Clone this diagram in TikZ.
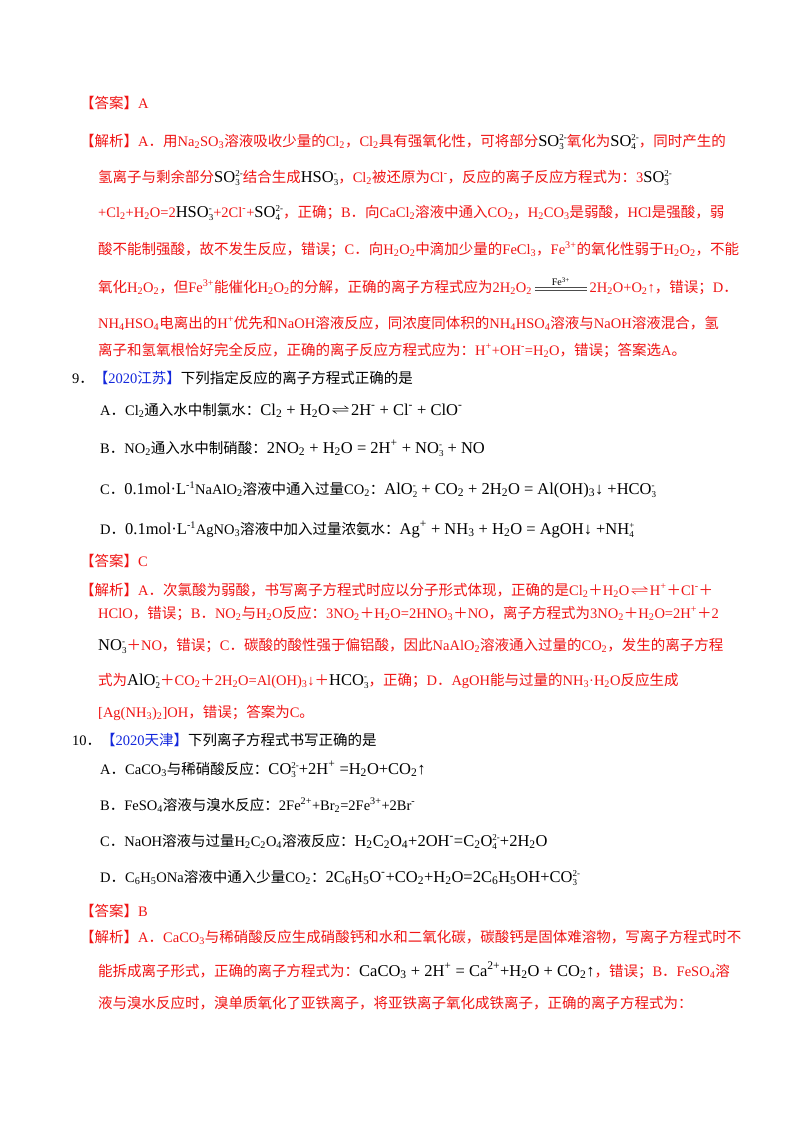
\documentclass[tikz,border=0pt]{standalone}
\usepackage{fontspec}
\setmainfont{Liberation Serif}
\newfontfamily\cjkf{Noto Sans CJK SC}
\newfontfamily\latf{Liberation Serif}
\newfontfamily\dvf{DejaVu Sans}
\newXeTeXintercharclass\CJKcls
\count255="4E00
\loop\XeTeXcharclass\count255=\CJKcls\ifnum\count255<"9FFF\advance\count255 by 1\repeat
\count255="3000
\loop\XeTeXcharclass\count255=\CJKcls\ifnum\count255<"303F\advance\count255 by 1\repeat
\count255="FF00
\loop\XeTeXcharclass\count255=\CJKcls\ifnum\count255<"FFEF\advance\count255 by 1\repeat
\XeTeXinterchartoks 0 \CJKcls={\cjkf}
\XeTeXinterchartoks 4095 \CJKcls={\cjkf}
\XeTeXinterchartoks \CJKcls 0={\latf}
\XeTeXinterchartoks 4095 0={\latf}
\XeTeXinterchartokenstate=1
\definecolor{ansred}{RGB}{240,20,20}
\definecolor{tagblue}{RGB}{20,40,220}
\newcommand\Ld[1]{\textsubscript{#1}}
\newcommand\Lu[1]{\textsuperscript{#1}}
\newcommand\Ls[2]{\raisebox{-0.45ex}{\fontsize{9}{8.5}\selectfont\shortstack[l]{#2\\#1}}}
\newcommand\bk[1]{\textcolor{black}{\fontsize{16.5}{18}\selectfont #1}}
\newcommand\ua{{\dvf ↑}}
\newcommand\da{{\dvf ↓}}
\newcommand\eqm{\,\tikz[baseline=-0.7ex]{\draw[line width=.6pt,line cap=round](0pt,1.3pt)--(15pt,1.3pt)--(11.5pt,3.8pt);\draw[line width=.6pt,line cap=round](15pt,-1.3pt)--(0pt,-1.3pt)--(3.5pt,-3.8pt);}\,}
\newcommand\catarrow{\,\tikz[baseline=-3pt]{\draw[black!70,line width=.7pt](0pt,-1.2pt)--(52pt,-1.2pt);\draw[black!70,line width=.7pt](0pt,1.2pt)--(52pt,1.2pt);\node[anchor=south,font=\fontsize{10}{11}\selectfont,text=black,inner sep=1pt] at (26pt,2pt){Fe\textsuperscript{3+}};}\,}
\begin{document}
\begin{tikzpicture}[x=1pt,y=-1pt,
  every node/.style={anchor=base west,inner sep=0pt,font=\fontsize{14.5}{16}\selectfont},
  red/.style={text=ansred},
  blk/.style={text=black}]
\fill[white] (0,0) rectangle (800,1132);
\node[red] (l1) at (80,108) {【答案】A};
\node[red] (l2) at (80,146) {【解析】A．用Na\Ld2SO\Ld3溶液吸收少量的Cl\Ld2，Cl\Ld2具有强氧化性，可将部分\bk{SO\Ls3{2-}}氧化为\bk{SO\Ls4{2-}}，同时产生的};
\node[red] (l3) at (98,182) {氢离子与剩余部分\bk{SO\Ls3{2-}}结合生成\bk{HSO\Ls3{-}}，Cl\Ld2被还原为Cl\Lu{-}，反应的离子反应方程式为：3\bk{SO\Ls3{2-}}};
\node[red] (l4) at (98,217) {+Cl\Ld2+H\Ld2O=2\bk{HSO\Ls3{-}}+2Cl\Lu{-}+\bk{SO\Ls4{2-}}，正确；B．向CaCl\Ld2溶液中通入CO\Ld2，H\Ld2CO\Ld3是弱酸，HCl是强酸，弱};
\node[red] (l5) at (98,254) {酸不能制强酸，故不发生反应，错误；C．向H\Ld2O\Ld2中滴加少量的FeCl\Ld3，Fe\Lu{3+}的氧化性弱于H\Ld2O\Ld2，不能};
\node[red] (l6) at (98,292) {氧化H\Ld2O\Ld2，但Fe\Lu{3+}能催化H\Ld2O\Ld2的分解，正确的离子方程式应为2H\Ld2O\Ld2\catarrow 2H\Ld2O+O\Ld2\ua，错误；D．};
\node[red] (l7) at (98,328) {NH\Ld4HSO\Ld4电离出的H\Lu{+}优先和NaOH溶液反应，同浓度同体积的NH\Ld4HSO\Ld4溶液与NaOH溶液混合，氢};
\node[red] (l8) at (98,355) {离子和氢氧根恰好完全反应，正确的离子反应方程式应为：H\Lu{+}+OH\Lu{-}=H\Ld2O，错误；答案选A。};
\node[blk] (q9) at (72,383) {9．\textcolor{tagblue}{【2020江苏】}下列指定反应的离子方程式正确的是};
\node[blk] (q9a) at (100,415) {A．Cl\Ld2通入水中制氯水：\bk{Cl\Ld2 + H\Ld2O\eqm 2H\Lu{-} + Cl\Lu{-} + ClO\Lu{-}}};
\node[blk] (q9b) at (100,453) {B．NO\Ld2通入水中制硝酸：\bk{2NO\Ld2 + H\Ld2O = 2H\Lu{+} + NO\Ls3{-} + NO}};
\node[blk] (q9c) at (100,494) {C．\bk{0.1mol·L}\Lu{-1}NaAlO\Ld2溶液中通入过量CO\Ld2：\bk{AlO\Ls2{-} + CO\Ld2 + 2H\Ld2O = Al(OH)\Ld3\da{} +HCO\Ls3{-}}};
\node[blk] (q9d) at (100,534) {D．\bk{0.1mol·L}\Lu{-1}AgNO\Ld3溶液中加入过量浓氨水：\bk{Ag\Lu{+} + NH\Ld3 + H\Ld2O = AgOH\da{} +NH\Ls4{+}}};
\node[red] (a9) at (80,566) {【答案】C};
\node[red] (e1) at (80,595) {【解析】A．次氯酸为弱酸，书写离子方程式时应以分子形式体现，正确的是Cl\Ld2＋H\Ld2O\eqm H\Lu{+}＋Cl\Lu{-}＋};
\node[red] (e2) at (98,618) {HClO，错误；B．NO\Ld2与H\Ld2O反应：3NO\Ld2＋H\Ld2O=2HNO\Ld3＋NO，离子方程式为3NO\Ld2＋H\Ld2O=2H\Lu{+}＋2};
\node[red] (e3) at (98,650) {\bk{NO\Ls3{-}}＋NO，错误；C．碳酸的酸性强于偏铝酸，因此NaAlO\Ld2溶液通入过量的CO\Ld2，发生的离子方程};
\node[red] (e4) at (98,685) {式为\bk{AlO\Ls2{-}}＋CO\Ld2＋2H\Ld2O=Al(OH)\Ld3\da＋\bk{HCO\Ls3{-}}，正确；D．AgOH能与过量的NH\Ld3·H\Ld2O反应生成};
\node[red] (e5) at (98,717) {[Ag(NH\Ld3)\Ld2]OH，错误；答案为C。};
\node[blk] (q10) at (72,745) {10．\textcolor{tagblue}{【2020天津】}下列离子方程式书写正确的是};
\node[blk] (q10a) at (100,774) {A．CaCO\Ld3与稀硝酸反应：\bk{CO\Ls3{2-}+2H\Lu{+} =H\Ld2O+CO\Ld2\ua}};
\node[blk] (q10b) at (100,810) {B．FeSO\Ld4溶液与溴水反应：2Fe\Lu{2+}+Br\Ld2=2Fe\Lu{3+}+2Br\Lu{-}};
\node[blk] (q10c) at (100,846) {C．NaOH溶液与过量H\Ld2C\Ld2O\Ld4溶液反应：\bk{H\Ld2C\Ld2O\Ld4+2OH\Lu{-}=C\Ld2O\Ls4{2-}+2H\Ld2O}};
\node[blk] (q10d) at (100,882) {D．C\Ld6H\Ld5ONa溶液中通入少量CO\Ld2：\bk{2C\Ld6H\Ld5O\Lu{-}+CO\Ld2+H\Ld2O=2C\Ld6H\Ld5OH+CO\Ls3{2-}}};
\node[red] (a10) at (80,916) {【答案】B};
\node[red] (f1) at (80,942) {【解析】A．CaCO\Ld3与稀硝酸反应生成硝酸钙和水和二氧化碳，碳酸钙是固体难溶物，写离子方程式时不};
\node[red] (f2) at (98,976) {能拆成离子形式，正确的离子方程式为：\bk{CaCO\Ld3 + 2H\Lu{+} = Ca\Lu{2+}+H\Ld2O + CO\Ld2\ua}，错误；B．FeSO\Ld4溶};
\node[red] (f3) at (98,1008) {液与溴水反应时，溴单质氧化了亚铁离子，将亚铁离子氧化成铁离子，正确的离子方程式为：};
\end{tikzpicture}
\end{document}
